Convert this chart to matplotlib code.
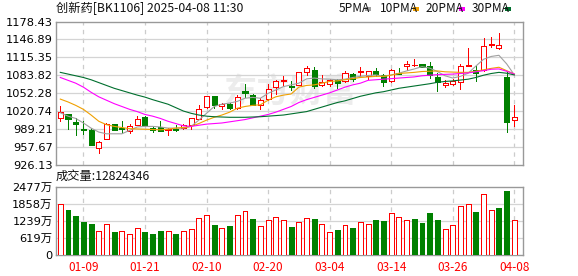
import matplotlib
matplotlib.use("Agg")
import matplotlib.pyplot as plt
from matplotlib.patches import Rectangle
import numpy as np

plt.rcParams['font.family'] = ['Noto Sans CJK SC', 'DejaVu Sans']

# ---------------- data ----------------
dates = ['01-06','01-07','01-08','01-09','01-10','01-13','01-14','01-15','01-16','01-17',
         '01-20','01-21','01-22','01-23','01-24','01-27','02-05','02-06','02-07','02-10',
         '02-11','02-12','02-13','02-14','02-17','02-18','02-19','02-20','02-21','02-24',
         '02-25','02-26','02-27','02-28','03-03','03-04','03-05','03-06','03-07','03-10',
         '03-11','03-12','03-13','03-14','03-17','03-18','03-19','03-20','03-21','03-24',
         '03-25','03-26','03-27','03-28','03-31','04-01','04-02','04-03','04-07','04-08']

opens = [1008, 1015, 1001.6, 989.5, 987.5, 955.4, 972, 998, 991, 986,
         997, 1010, 991, 993, 987, 989, 991, 996, 1007.5, 1027.4,
         1046.7, 1029, 1033, 1026, 1055.5, 1049.5, 1031, 1042, 1062.5, 1074.5,
         1065.5, 1067, 1089, 1092.4, 1067, 1069, 1076, 1073, 1086, 1089,
         1083, 1090.6, 1083.6, 1073, 1087.6, 1099.4, 1101.2, 1103.4, 1101, 1080,
         1067, 1068.8, 1071.8, 1100.6, 1093.4, 1093.4, 1136.3, 1131, 1080, 1004.6]
highs = [1029, 1016, 1008.6, 1003, 991, 969, 1000, 999, 1004, 998,
         1012.6, 1012, 993, 1003, 990.5, 997, 998, 1009, 1031, 1047.5,
         1047, 1035, 1035, 1049.5, 1068, 1051, 1043.7, 1068.3, 1076, 1082,
         1073, 1089.5, 1099.4, 1097.6, 1084.6, 1077, 1077, 1090.6, 1087.6, 1097.6,
         1091, 1096.4, 1086, 1094.6, 1096.4, 1109.2, 1112, 1103.5, 1106.4, 1087.6,
         1074.8, 1077.6, 1103.4, 1131.5, 1099.4, 1149, 1150.8, 1158, 1090.6, 1031]
lows = [1003, 990, 979, 980.5, 961, 948, 971, 987, 982, 982,
        996, 994, 984, 986, 978, 986, 989, 989, 1007, 1026.5,
        1027, 1025, 1025, 1025, 1045, 1031, 1025, 1041, 1051, 1067,
        1058, 1066, 1083.6, 1061.3, 1064.3, 1065, 1061, 1071.3, 1074, 1081.8,
        1077, 1081.8, 1065.3, 1072.5, 1086, 1093.4, 1101, 1098.5, 1078.8, 1056.5,
        1062.5, 1067, 1060, 1100.5, 1073, 1090.6, 1132.8, 1130.5, 985, 994]
closes = [1020, 1007.5, 998, 988.5, 962, 966, 999, 988, 989, 994,
          1007, 996, 987, 986.5, 990, 987, 996, 1008.6, 1024.4, 1046.7,
          1032, 1033, 1026, 1045.5, 1053, 1032, 1039.7, 1059.5, 1074, 1075.5,
          1064, 1089, 1096.4, 1064.3, 1071.3, 1076, 1070, 1087.6, 1077, 1090.6,
          1091, 1086, 1071.8, 1093.4, 1086.4, 1104, 1101.7, 1098.7, 1083.6, 1071.3,
          1070.6, 1074, 1100.4, 1101.3, 1087.6, 1134.5, 1139, 1137.5, 1001, 1010.4]

ma5 = [1018, 1012, 1008, 1000, 991, 984, 981, 981, 981, 987,
       993, 994, 994, 993, 991, 991, 991, 994, 1005, 1017,
       1029, 1033, 1035, 1038, 1043.5, 1045, 1043.5, 1052, 1058, 1064,
       1067, 1070, 1077.5, 1079, 1077.5, 1077, 1076, 1077, 1080, 1082,
       1083.5, 1084.5, 1082, 1084.5, 1087.5, 1091.5, 1095, 1099, 1096.5, 1090.5,
       1083, 1079, 1082, 1087.5, 1100, 1112, 1117, 1119, 1104, 1084.6]
ma10 = [1042, 1037, 1031, 1024, 1014, 1003, 997, 994, 992, 990,
        989.5, 989, 988.5, 988, 989, 991, 992, 994, 999, 1005,
        1010, 1014, 1019, 1026, 1029, 1031, 1032, 1040, 1046, 1049,
        1051, 1063, 1066, 1067, 1070, 1073, 1074, 1076, 1078, 1080,
        1081, 1082, 1082, 1084, 1087, 1088, 1089, 1090.5, 1091, 1091.5,
        1090, 1089.5, 1089, 1089, 1091, 1093.5, 1096, 1098, 1092, 1086]
ma20 = [1080, 1075, 1070, 1063, 1054, 1046, 1040, 1034, 1029, 1024,
        1020, 1015, 1012, 1008, 1003, 999, 995, 994, 996, 998,
        999, 1000, 1002, 1004, 1006, 1009, 1012, 1015, 1019, 1024,
        1029, 1036, 1041, 1045, 1049, 1053, 1058, 1063, 1067, 1070,
        1075, 1076, 1077, 1078, 1079, 1080, 1081, 1083, 1084, 1085,
        1085.5, 1086, 1087, 1088, 1090, 1092, 1094.5, 1095, 1091, 1086]
ma30 = [1089, 1086, 1083, 1080, 1076, 1071, 1066, 1061, 1057, 1053,
        1049, 1045.5, 1041, 1037, 1033, 1027, 1021, 1017, 1014, 1012,
        1011, 1010.5, 1010, 1010, 1010, 1010.5, 1011, 1012, 1013, 1014,
        1016, 1018, 1020, 1024, 1028, 1032, 1036, 1039, 1043, 1047,
        1050, 1053, 1055, 1058, 1061, 1063, 1065, 1067, 1069, 1071.5,
        1073, 1074, 1075.5, 1077, 1080, 1084, 1087, 1089, 1087.5, 1084.5]

# volume in 万 (10k)
volumes = [1850, 1632, 1415, 1197, 1124, 870, 1112, 834, 870, 762,
           967, 834, 762, 870, 870, 762, 870, 943, 1330, 1451,
           1076, 967, 1052, 1439, 1584, 1306, 1040, 1257, 1366, 1257,
           1016, 1185, 1330, 1294, 1112, 822, 907, 1076, 979, 1185,
           1112, 1257, 1221, 1511, 1366, 1257, 1294, 1161, 1511, 1257,
           931, 1076, 1765, 1838, 1560, 2200, 1620, 1705, 2321, 1282.4346]
vol_up = [1, 0, 0, 0, 0, 1, 1, 0, 1, 1,
          1, 0, 0, 0, 1, 0, 1, 1, 1, 1,
          0, 1, 0, 1, 1, 0, 1, 1, 1, 1,
          0, 1, 1, 0, 1, 1, 0, 1, 0, 1,
          1, 0, 0, 1, 1, 1, 0, 0, 0, 0,
          1, 1, 1, 1, 0, 1, 1, 0, 0, 1]

price_ticks = [926.13, 957.67, 989.21, 1020.74, 1052.28, 1083.82, 1115.35, 1146.89, 1178.43]
vol_ticks = [0, 619, 1239, 1858, 2477]
vol_tick_labels = ['0', '619万', '1239万', '1858万', '2477万']
label_idx = [3, 11, 19, 27, 35, 43, 51, 59]

title = '创新药[BK1106] 2025-04-08 11:30'
vol_title = '成交量:12824346'
ma_names = ['5PMA', '10PMA', '20PMA', '30PMA']

# ---------------- styles ----------------
RED = '#ff0000'
GREEN = '#008000'
MA_COLORS = ['#a0a0a0', '#f0a000', '#ff00ff', '#006f2e']
FRAME = '#999999'
GRID = '#d4d4d4'
LW = 0.72

W, H = 578, 276
fig = plt.figure(figsize=(W / 100, H / 100), dpi=100)

def px_axes(l, t, r, b):
    return fig.add_axes([l / W, 1 - b / H, (r - l) / W, (b - t) / H])

ax = px_axes(56, 21.5, 522.7, 165)
axv = px_axes(56, 186.7, 522.7, 255)

n = len(closes)
x = np.arange(n)
xlim = (-0.56, n - 1 + 1.09)

for a in (ax, axv):
    a.set_xlim(*xlim)
    for s in a.spines.values():
        s.set_color(FRAME)
        s.set_linewidth(1.0)
    a.tick_params(length=0)
    for i in label_idx:
        a.axvline(i, color='#cccccc', lw=0.9, ls=(0, (3.5, 3.5)), zorder=0)

# watermark
ax.text(0.50, 0.50, '东方财富', transform=ax.transAxes, fontsize=24, color='#ececec',
        ha='center', va='center', fontweight='bold', style='italic', zorder=0)

# price panel
ax.set_ylim(price_ticks[0], price_ticks[-1])
ax.set_yticks(price_ticks)
ax.set_yticklabels([f'{v:.2f}' for v in price_ticks], family='DejaVu Sans', fontsize=8.2)
ax.tick_params(axis='y', pad=2.5)
ax.set_xticks([])
for v in price_ticks[1:-1]:
    ax.axhline(v, color=GRID, lw=0.9, zorder=0)

bw = 0.66
for i in range(n):
    o, h, l, c = opens[i], highs[i], lows[i], closes[i]
    up = c >= o
    col = RED if up else GREEN
    ax.plot([i, i], [l, h], color=col, lw=LW, zorder=2, solid_capstyle='butt',
            antialiased=False)
    bottom = min(o, c)
    height = max(abs(c - o), 0.01)
    ax.add_patch(Rectangle((i - bw / 2, bottom), bw, height,
                           facecolor='white' if up else col, edgecolor=col,
                           lw=LW, zorder=3, antialiased=False))

for vals, col in zip([ma5, ma10, ma20, ma30], MA_COLORS):
    ax.plot(x, vals, color=col, lw=0.8, zorder=4)

# volume panel
axv.set_ylim(0, vol_ticks[-1])
axv.set_yticks(vol_ticks)
axv.set_yticklabels(vol_tick_labels, fontsize=8.2)
for lab in axv.get_yticklabels():
    lab.set_family(['DejaVu Sans', 'Noto Sans CJK SC'])
axv.tick_params(axis='y', pad=2.5)
for v in vol_ticks[1:-1]:
    axv.axhline(v, color=GRID, lw=0.9, zorder=0)
vbw = 0.64
for i in range(n):
    col = RED if vol_up[i] else GREEN
    axv.bar(i, volumes[i], width=vbw, bottom=0,
            facecolor='white' if vol_up[i] else col, edgecolor=col, lw=LW, zorder=3,
            antialiased=False)
axv.set_xticks(label_idx)
axv.set_xticklabels([dates[i] for i in label_idx], color=RED, fontsize=8.5)
axv.tick_params(axis='x', pad=4)

# titles & legend
fig.text(56 / W, 1 - 8.5 / H, title, fontsize=8.8, va='center', ha='left', color='#111111')
fig.text(56 / W, 1 - 176.7 / H, vol_title, fontsize=8.8, va='center', ha='left', color='#111111')

leg_text_x = [338.3, 380, 426, 471.7]
leg_box_x = [365.3, 413.3, 459.3, 505]
for name, col, tx, bx in zip(ma_names, MA_COLORS, leg_text_x, leg_box_x):
    fig.text(tx / W, 1 - 8.5 / H, name, fontsize=8.6, va='center', ha='left', color='#111111')
    fig.patches.append(Rectangle((bx / W, 1 - 10.5 / H), 5.7 / W, 3.5 / H,
                                 transform=fig.transFigure, facecolor=col, edgecolor='none'))

fig.savefig('out.png', dpi=100)
